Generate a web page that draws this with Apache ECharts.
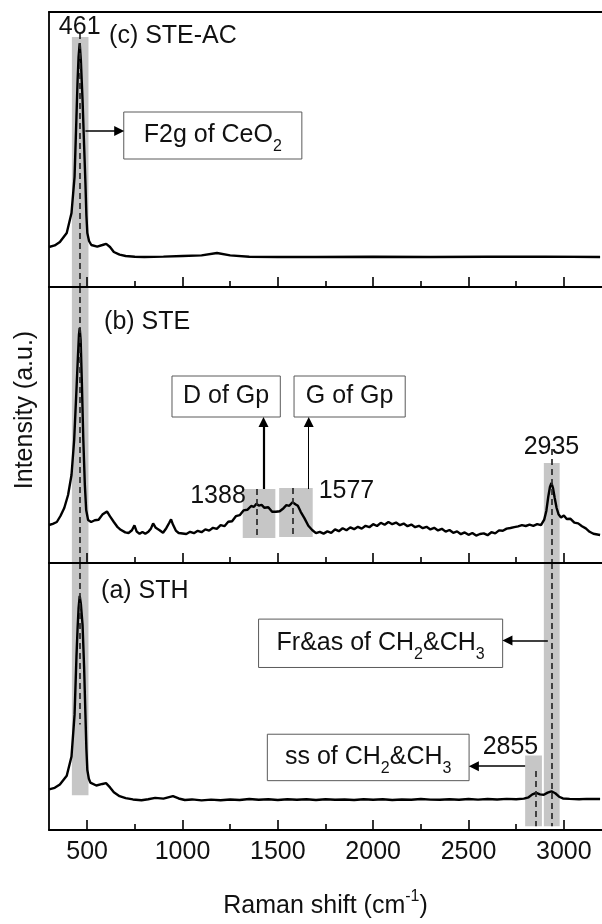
<!DOCTYPE html>
<html>
<head>
<meta charset="utf-8">
<script src="https://cdn.jsdelivr.net/npm/echarts@6/dist/echarts.min.js"></script>
<style>
  html, body { margin: 0; padding: 0; background: #ffffff; }
  #chart { width: 602px; height: 924px; }
</style>
</head>
<body>
<div id="chart"></div>
<script>
// Raman spectra of three samples, stacked panels sharing the Raman shift axis.
const FONT = '"Liberation Sans", Arial, Helvetica, sans-serif';

// x axis tick positions (cm-1)
const majorTicks = [500, 1000, 1500, 2000, 2500, 3000];
const minorTicks = [750, 1250, 1750, 2250, 2750];

// [Raman shift (cm-1), intensity (a.u.)]
const spectrumSTEAC = [
  [300,20],[330,20.8],[357,22.5],[393,27],[418,37],[434,55],[444,85],[450,103.5],[455,115],[461,122],
  [467,113.5],[476,93.5],[484,71],[491,52],[496,36],[501,27],[510,23],[522,21],[553,20.2],[580,21],
  [600,21.6],[620,20],[640,17.5],[670,16.2],[702,15.5],[750,15.1],[800,15],[900,15.2],[1000,15.5],
  [1100,15.8],[1181,17],[1250,15.8],[1350,15.1],[1500,15],[1700,15],[2000,15.1],[2300,15],[2600,15.1],
  [2900,15.2],[3190,15]
];

const spectrumSTE = [
  [300,19],[320,19.6],[341,20.5],[360,23.5],[380,27.5],[400,34],[418,44],[432,61.5],[444,86.5],[452,104],
  [457,114],[461,117.5],[466,111.5],[472,91.5],[480,61.5],[488,39],[495,26.5],[505,21.5],[521,20.5],[540,21.4],
  [560,21.6],[580,24.2],[604,25.8],[620,23.3],[640,20.5],[660,17.9],[676,16.6],[700,15.3],[717,15],[735,16.4],
  [748,18.8],[760,15.7],[775,14.6],[790,15.5],[805,14.6],[821,15.6],[835,17.3],[846,19.8],[860,17.6],[880,16.4],
  [898,15.1],[915,17.4],[930,20],[940,21.8],[950,19.2],[965,16.2],[980,15],[991,14.9],[1000,15.4],[1020,14.5],
  [1040,15.6],[1060,14.9],[1080,16.1],[1100,15.4],[1120,16.8],[1140,16.2],[1160,17.6],[1180,17.1],[1200,18.9],[1220,18.4],
  [1240,20.6],[1260,20.9],[1280,23.4],[1300,23.9],[1320,26.3],[1340,26.6],[1360,28.5],[1375,28.1],[1388,29.6],[1400,28.7],
  [1415,29.1],[1430,27.6],[1450,27.9],[1470,25.6],[1490,25.6],[1510,25.9],[1530,27.4],[1545,28.9],[1560,28.6],[1577,30.4],
  [1592,29.4],[1605,28.6],[1620,25.6],[1640,22.3],[1660,18.6],[1680,16.5],[1700,14.9],[1720,15.6],[1740,14.7],[1760,15.8],
  [1780,15.1],[1800,16.8],[1820,15.9],[1840,17.4],[1860,16.4],[1880,17.8],[1900,16.9],[1920,18.1],[1940,17.2],[1960,18.6],
  [1980,17.9],[2000,19.4],[2020,18.5],[2040,20.1],[2060,19.1],[2080,20.5],[2100,19.4],[2120,20.2],[2140,18.9],[2160,19.7],
  [2180,18.4],[2200,19.2],[2220,17.9],[2240,18.6],[2260,17.4],[2280,18.1],[2300,16.8],[2320,17.6],[2340,16.3],[2360,17.1],
  [2380,15.7],[2400,16.5],[2420,15.1],[2440,15.8],[2460,14.4],[2480,15.3],[2500,14.1],[2520,15],[2540,13.7],[2560,14.5],
  [2580,14.8],[2600,13.9],[2620,15.4],[2640,14.8],[2660,16.3],[2680,16.1],[2700,17.2],[2720,17.5],[2740,17.9],[2760,18.3],
  [2780,18.9],[2800,18.5],[2820,19.2],[2840,18.6],[2860,19.4],[2880,18.9],[2897,21.7],[2908,26],[2918,33],[2927,38],
  [2935,40],[2943,37.5],[2952,32.5],[2962,27.5],[2972,24.4],[2985,22.8],[3000,23.8],[3015,22],[3035,22.1],[3055,20.2],
  [3075,19.8],[3095,18.4],[3115,17.3],[3135,15.6],[3155,14.6],[3190,14]
];

const spectrumSTH = [
  [300,21],[330,21.8],[357,23.5],[393,28],[418,38],[434,59.5],[444,89.5],[450,104.5],[455,114.5],[461,121],
  [467,117],[476,106],[484,84.5],[491,59.5],[496,42],[501,31],[509,26.5],[517,24.5],[548,23],[580,23.8],
  [599,24.2],[620,22],[640,19.5],[670,17.5],[702,16.5],[740,15.8],[785,15.4],[820,15.9],[857,16.6],[900,16.2],
  [950,17.5],[980,16.3],[1012,15.5],[1050,15.8],[1100,15.3],[1150,15.7],[1200,15.4],[1250,15.8],[1300,15.5],[1350,16],
  [1400,15.6],[1450,15.9],[1500,15.5],[1550,15.9],[1600,15.6],[1650,15.9],[1700,15.5],[1750,15.9],[1800,15.6],[1850,15.8],
  [1900,15.5],[1950,15.9],[2000,15.6],[2050,15.9],[2100,15.5],[2150,15.8],[2200,15.6],[2250,16],[2300,15.7],[2350,15.6],
  [2400,15.9],[2450,15.6],[2500,16],[2550,15.7],[2600,16],[2650,15.8],[2700,16.1],[2750,15.9],[2790,16.2],[2815,16.9],
  [2835,18.4],[2855,19.2],[2875,18.4],[2895,18.2],[2915,19.3],[2935,20],[2955,19],[2975,17.2],[2995,16.3],[3030,16.1],
  [3080,15.9],[3120,16.1],[3190,16]
];

// Assigned band positions (cm-1)
const peakF2g = 461, peakD = 1388, peakG = 1577, peakCHss = 2855, peakCHas = 2935;

const SHIFT_MIN = 300, SHIFT_MAX = 3200;

const panels = [
  { top: 12,  height: 275, yMax: 137.5 },   // (c) STE-AC
  { top: 287, height: 276, yMax: 138 },     // (b) STE
  { top: 563, height: 276, yMax: 138 }      // (a) STH
];

const textStyleBase = { color: '#111', fontFamily: FONT, fontSize: 25 };
const subRich = {
  s: { fontSize: 16, lineHeight: 16, verticalAlign: 'bottom', fontFamily: FONT, color: '#111' }
};

function seg(x1, y1, x2, y2, extra) {
  return [Object.assign({ coord: [x1, y1] }, extra || {}), { coord: [x2, y2] }];
}
function area(x1, y1, x2, y2, name) {
  return [{ name: name || '', coord: [x1, y1] }, { coord: [x2, y2] }];
}
function note(x, y, text, align) {
  return { coord: [x, y], label: { formatter: text, align: align || 'center' } };
}

const grids = panels.map(p => ({ left: 49, right: -10, top: p.top, height: p.height, show: false }));

const xAxes = [];
panels.forEach((p, i) => {
  const isBottom = i === panels.length - 1;
  xAxes.push({
    type: 'value', gridIndex: i, min: SHIFT_MIN, max: SHIFT_MAX, position: 'bottom', z: 10,
    axisLine: { show: true, onZero: false, lineStyle: { color: '#000', width: 1.8 } },
    axisTick: { show: true, inside: true, length: 10, customValues: majorTicks, lineStyle: { color: '#000', width: 1.6 } },
    axisLabel: {
      show: isBottom, customValues: majorTicks, margin: 10, color: '#111', fontFamily: FONT, fontSize: 25,
      formatter: v => String(v)
    },
    splitLine: { show: false },
    name: isBottom ? 'Raman shift (cm{p|-1})' : '',
    nameLocation: 'middle', nameGap: 59,
    nameTextStyle: {
      color: '#111', fontFamily: FONT, fontSize: 25, lineHeight: 34,
      rich: { p: { fontSize: 16, lineHeight: 16, verticalAlign: 'top', fontFamily: FONT, color: '#111' } }
    }
  });
  xAxes.push({
    type: 'value', gridIndex: i, min: SHIFT_MIN, max: SHIFT_MAX, position: 'bottom', z: 10,
    axisLine: { show: false, onZero: false },
    axisTick: { show: true, inside: true, length: 6, customValues: minorTicks, lineStyle: { color: '#000', width: 1.6 } },
    axisLabel: { show: false },
    splitLine: { show: false }
  });
});
// top frame of the upper panel
xAxes.push({
  type: 'value', gridIndex: 0, min: SHIFT_MIN, max: SHIFT_MAX, position: 'top', z: 10,
  axisLine: { show: true, onZero: false, lineStyle: { color: '#000', width: 1.8 } },
  axisTick: { show: false }, axisLabel: { show: false }, splitLine: { show: false }
});

const yAxes = panels.map((p, i) => ({
  type: 'value', gridIndex: i, min: 0, max: p.yMax, z: 10,
  axisLine: { show: true, onZero: false, lineStyle: { color: '#000', width: 1.8 } },
  axisTick: { show: false }, axisLabel: { show: false }, splitLine: { show: false },
  name: i === 1 ? 'Intensity (a.u.)' : '',
  nameLocation: 'middle', nameGap: 11,
  nameTextStyle: { color: '#111', fontFamily: FONT, fontSize: 25, padding: [0, 0, 0, 30] }
}));

// per-panel content
const spectra = [spectrumSTEAC, spectrumSTE, spectrumSTH];

const bands = [
  // (c)
  [ area(peakF2g - 41, 125, peakF2g + 46, 0) ],
  // (b)
  [ area(peakF2g - 41, 138, peakF2g + 46, 0),
    area(1316, 37, 1487, 12.5),
    area(1507, 37.5, 1683, 13),
    area(peakCHas - 40, 50, peakCHas + 43, 0) ],
  // (a)
  [ area(peakF2g - 41, 138, peakF2g + 46, 18),
    area(2797, 38.5, 2885, 2),
    area(peakCHas - 40, 138, peakCHas + 43, 2) ]
];

const guides = [
  [ seg(peakF2g, 127, peakF2g, 0) ],
  [ seg(peakF2g, 138, peakF2g, 0),
    seg(peakD, 37, peakD, 12.5),
    seg(peakG, 37.5, peakG, 13),
    seg(peakCHas, 57, peakCHas, 0) ],
  [ seg(peakF2g, 138, peakF2g, 54.5),
    seg(peakCHss, 30.5, peakCHss, 2),
    seg(peakCHas, 138, peakCHas, 2) ]
];

const boxes = [
  [ area(692, 87.5, 1626, 64, 'F2g of CeO{s|2}') ],
  [ area(945, 93.5, 1513, 73, 'D of Gp'),
    area(1585, 93.5, 2168, 73, 'G of Gp') ],
  [ area(1399, 109, 2679, 84, 'Fr&as of CH{s|2}&CH{s|3}'),
    area(1445, 49.5, 2503, 25.5, 'ss of CH{s|2}&CH{s|3}') ]
];

const arrows = [
  [ seg(491, 78, 668, 78) ],
  [ seg(1425, 37, 1425, 70.5, { lineStyle: { width: 2.2 } }),
    seg(1662, 37, 1662, 70.5, { lineStyle: { width: 1 } }) ],
  [ seg(2916, 98, 2704, 98),
    seg(2797, 33, 2528, 33) ]
];

const notes = [
  [ note(peakF2g, 130, String(peakF2g)),
    note(615, 125.5, '(c) STE-AC', 'left') ],
  [ note(589, 120.5, '(b) STE', 'left'),
    note(1332, 33.5, String(peakD), 'right'),
    note(1714, 36, String(peakG), 'left'),
    note(peakCHas, 58, String(peakCHas)) ],
  [ note(573, 123.5, '(a) STH', 'left'),
    note(2720, 43, String(peakCHss)) ]
];

const series = [];
panels.forEach((p, i) => {
  const axes = { xAxisIndex: 2 * i, yAxisIndex: i };
  series.push(Object.assign({
    type: 'line', data: [], z: 1, silent: true,
    markArea: { silent: true, itemStyle: { color: '#c6c6c6' }, label: { show: false }, data: bands[i] }
  }, axes));
  series.push(Object.assign({
    type: 'line', data: spectra[i], z: 3, symbol: 'none', silent: true,
    lineStyle: { color: '#000', width: 2.4 }
  }, axes));
  series.push(Object.assign({
    type: 'line', data: [], z: 4, silent: true,
    markLine: {
      silent: true, symbol: ['none', 'none'], label: { show: false },
      lineStyle: { color: '#2a2a2a', width: 1.7, type: [6, 4] },
      data: guides[i]
    }
  }, axes));
  series.push(Object.assign({
    type: 'line', data: [], z: 5, silent: true,
    markArea: {
      silent: true,
      itemStyle: { color: '#ffffff', borderColor: '#5a5a5a', borderWidth: 1 },
      label: Object.assign({ show: true, position: 'inside', formatter: '{b}', lineHeight: 38, rich: subRich }, textStyleBase),
      data: boxes[i]
    },
    markLine: {
      silent: true, symbol: ['none', 'triangle'], symbolSize: 10, label: { show: false },
      itemStyle: { color: '#000' },
      lineStyle: { color: '#000', width: 1.5, type: 'solid' },
      data: arrows[i]
    },
    markPoint: {
      silent: true, symbol: 'circle', symbolSize: 1, itemStyle: { color: 'rgba(0,0,0,0)' },
      label: Object.assign({ show: true, position: 'inside', verticalAlign: 'middle' }, textStyleBase),
      data: notes[i]
    }
  }, axes));
});

const chart = echarts.init(document.getElementById('chart'), null, { renderer: 'canvas' });
chart.setOption({
  animation: false,
  backgroundColor: '#ffffff',
  textStyle: { fontFamily: FONT },
  grid: grids,
  xAxis: xAxes,
  yAxis: yAxes,
  series: series
});
</script>
</body>
</html>
